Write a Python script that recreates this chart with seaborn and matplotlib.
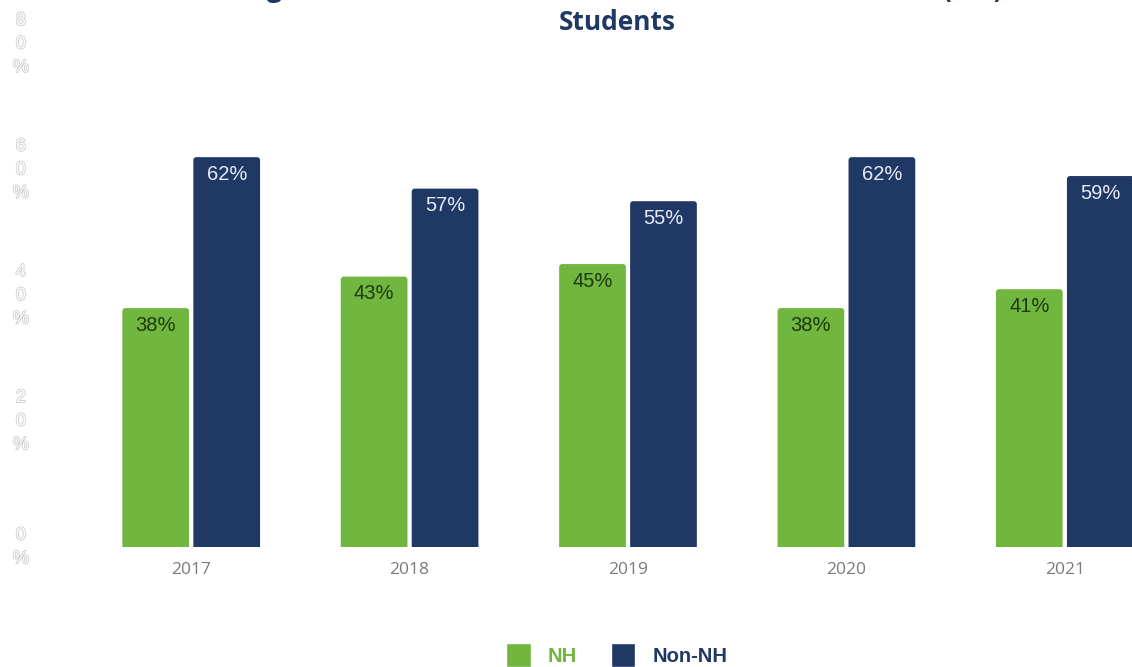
import matplotlib
matplotlib.use("Agg")
import matplotlib.pyplot as plt
import matplotlib.patheffects as pe
from matplotlib.patches import FancyBboxPatch
import pandas as pd
import seaborn as sns

# Share of students by group and year (percent)
years = ["2017", "2018", "2019", "2020", "2021"]
nh_share = [38, 43, 45, 38, 41]
non_nh_share = [62, 57, 55, 62, 59]
groups = ["NH", "Non-NH"]
y_ticks = [0, 20, 40, 60, 80]

green = "#70b63f"
navy = "#1f3864"

df = pd.DataFrame({
    "Year": years * 2,
    "Share": nh_share + non_nh_share,
    "Group": [groups[0]] * len(years) + [groups[1]] * len(years),
})

sns.set_theme(style="white")
plt.rcParams["font.family"] = ["Liberation Sans", "DejaVu Sans"]

W, H = 1132, 667
fig = plt.figure(figsize=(W / 100, H / 100), dpi=100)
fig.patch.set_facecolor("white")

# axes spans past the right edge so the last group is clipped
ax_left, ax_right, ax_bottom, ax_top = 82, 1174, 547, 44
ax = fig.add_axes([ax_left / W, 1 - ax_bottom / H,
                   (ax_right - ax_left) / W, (ax_bottom - ax_top) / H])

sns.barplot(data=df, x="Year", y="Share", hue="Group", order=years,
            hue_order=groups, palette=[green, navy], saturation=1,
            width=0.65, gap=0.06, ax=ax)

ax.set_xlim(-0.5, len(years) - 0.5)
ax.set_ylim(0, 80)
ax.set_xlabel("")
ax.set_ylabel("")
for s in ax.spines.values():
    s.set_visible(False)

# soften the top corners of every bar (bottom corners fall below the axis and are clipped)
px_x = (ax_right - ax_left) / len(years)      # pixels per x unit
px_y = (ax_bottom - ax_top) / 80              # pixels per percent
radius_px = 3
for container in ax.containers:
    for rect in container.patches:
        rect.set_visible(False)
        drop = 2 * radius_px / px_y
        rounded = FancyBboxPatch(
            (rect.get_x(), rect.get_y() - drop), rect.get_width(), rect.get_height() + drop,
            boxstyle=f"round,pad=0,rounding_size={radius_px / px_x}",
            mutation_aspect=px_x / px_y,
            facecolor=rect.get_facecolor(), edgecolor="none", clip_on=True)
        ax.add_patch(rounded)
        rounded.set_clip_path(ax.patch)

# x tick labels
ax.tick_params(axis="x", length=0, pad=11, labelsize=12.5, labelcolor="#7a7a7a")
for t in ax.get_xticklabels():
    t.set_family(["Open Sans", "DejaVu Sans"])

# y tick labels: stacked characters, outlined
ax.set_yticks(y_ticks)
ax.set_yticklabels(["\n".join(f"{v}%") for v in y_ticks])
ax.tick_params(axis="y", length=0, pad=44)
for t in ax.get_yticklabels():
    t.set_horizontalalignment("center")
    t.set_verticalalignment("center")
    t.set_multialignment("center")
    t.set_fontsize(13)
    t.set_linespacing(1.5)
    t.set_color("white")
    t.set_path_effects([pe.withStroke(linewidth=1.1, foreground="#c9c9c9")])

# value labels inside the top of each bar
label_colors = {groups[0]: "#1c3a0e", groups[1]: "#e6ecf6"}
for container, grp in zip(ax.containers, groups):
    for rect, val in zip(container.patches, container.datavalues):
        ax.annotate(f"{val:.0f}%",
                    xy=(rect.get_x() + rect.get_width() / 2, rect.get_height()),
                    xytext=(0, -12.5), textcoords="offset points",
                    ha="center", va="center", fontsize=14.5,
                    color=label_colors[grp])

# legend at the bottom centre
handles, labels = ax.get_legend_handles_labels()
if ax.get_legend() is not None:
    ax.get_legend().remove()
leg = fig.legend(handles, labels, loc="center", ncol=2, frameon=False,
                 bbox_to_anchor=(617 / W, 12 / H),
                 prop={"family": ["Liberation Sans"], "weight": "bold", "size": 14.5},
                 handlelength=1.2, handleheight=1.45, handletextpad=0.85,
                 columnspacing=1.7)
for txt, col in zip(leg.get_texts(), [green, navy]):
    txt.set_color(col)

# title (first line runs off the top)
fig.text(617 / W, 1 + 3 / H, "Degrees and Certificates Awarded to Native Hawaiian (NH)",
         ha="center", va="baseline", fontsize=19, fontweight="bold",
         color=navy, family=["Open Sans", "DejaVu Sans"])
fig.text(617 / W, 1 - 30 / H, "Students",
         ha="center", va="baseline", fontsize=19, fontweight="bold",
         color=navy, family=["Open Sans", "DejaVu Sans"])

fig.savefig("out.png", dpi=100, facecolor="white")
